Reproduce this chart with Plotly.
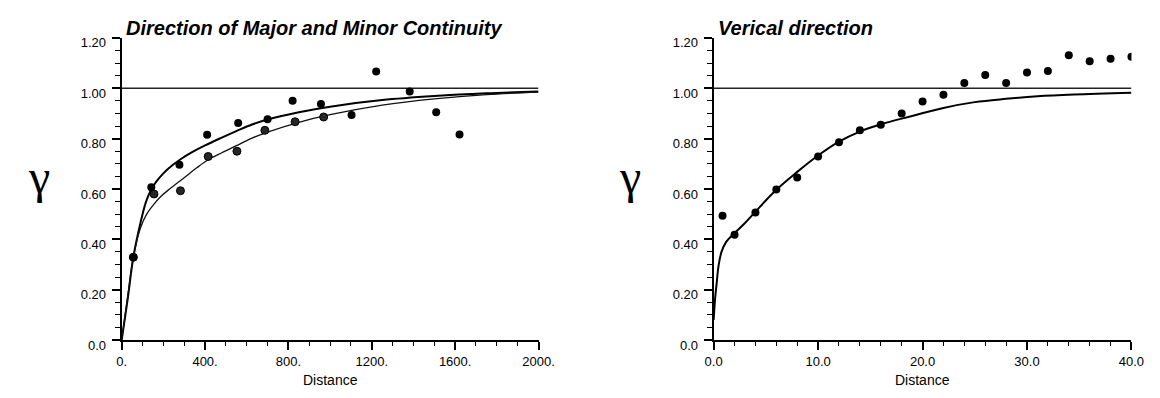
import plotly.graph_objects as go

# ---------------- data ----------------
# Left panel: experimental variogram points (major / minor direction)
major_lag = [56, 142, 277, 410, 559, 700, 820, 956, 1103, 1221, 1382, 1509, 1621]
major_gam = [0.329, 0.607, 0.696, 0.815, 0.862, 0.877, 0.950, 0.938, 0.894, 1.067, 0.987, 0.905, 0.816]
minor_lag = [56, 155, 282, 415, 553, 687, 832, 969]
minor_gam = [0.329, 0.580, 0.593, 0.729, 0.750, 0.833, 0.867, 0.886]

# Left panel: fitted model curves
major_fit_x = [0, 30, 56, 90, 115, 140, 165, 200, 240, 288, 340, 400, 480, 550, 625, 700, 850,
               1000, 1250, 1500, 1750, 2000]
major_fit_y = [0.0, 0.17, 0.33, 0.465, 0.545, 0.595, 0.628, 0.662, 0.692, 0.721, 0.747, 0.773,
               0.804, 0.83, 0.856, 0.876, 0.905, 0.927, 0.953, 0.969, 0.980, 0.987]
minor_fit_x = [0, 30, 56, 90, 120, 155, 190, 230, 300, 360, 415, 480, 550, 620, 700, 850, 1000,
               1250, 1500, 1750, 2000]
minor_fit_y = [0.0, 0.18, 0.33, 0.445, 0.50, 0.54, 0.572, 0.60, 0.645, 0.684, 0.716, 0.744, 0.772,
               0.80, 0.826, 0.865, 0.895, 0.933, 0.958, 0.975, 0.985]

# Right panel: vertical direction
vert_lag = [0.85, 2, 4, 6, 8, 10, 12, 14, 16, 18, 20, 22, 24, 26, 28, 30, 32, 34, 36, 38, 40]
vert_gam = [0.494, 0.418, 0.507, 0.598, 0.646, 0.729, 0.786, 0.833, 0.855, 0.900, 0.947, 0.974,
            1.021, 1.053, 1.021, 1.063, 1.069, 1.131, 1.107, 1.117, 1.125]
vert_fit_x = [0, 0.15, 0.3, 0.45, 0.75, 1.2, 2, 3, 4, 6, 8, 10, 12, 14, 16, 19, 22, 25, 28, 31, 34.5, 40]
vert_fit_y = [0.08, 0.17, 0.23, 0.29, 0.35, 0.39, 0.425, 0.465, 0.51, 0.597, 0.668, 0.733, 0.788,
              0.828, 0.857, 0.89, 0.922, 0.945, 0.958, 0.968, 0.975, 0.982]

sill = 1.0
left_range = [0, 2000]
right_range = [0, 40]

y_ticks = [0, 0.2, 0.4, 0.6, 0.8, 1.0, 1.2]
y_text = ["0.0", "0.20", "0.40", "0.60", "0.80", "1.00", "1.20"]
lx_ticks = [0, 400, 800, 1200, 1600, 2000]
lx_text = ["0.", "400.", "800.", "1200.", "1600.", "2000."]
rx_ticks = [0, 10, 20, 30, 40]
rx_text = ["0.0", "10.0", "20.0", "30.0", "40.0"]

titles = ["Direction of Major and Minor Continuity", "Verical direction"]

# ---------------- figure ----------------
fig = go.Figure()

# sill lines
fig.add_trace(go.Scatter(x=left_range, y=[sill, sill], mode="lines",
                         line=dict(color="#222", width=1.5), xaxis="x", yaxis="y", hoverinfo="skip"))
fig.add_trace(go.Scatter(x=right_range, y=[sill, sill], mode="lines",
                         line=dict(color="#222", width=1.5), xaxis="x2", yaxis="y2", hoverinfo="skip"))

# model curves
fig.add_trace(go.Scatter(x=major_fit_x, y=major_fit_y, mode="lines", line_shape="spline",
                         line=dict(color="black", width=2), xaxis="x", yaxis="y"))
fig.add_trace(go.Scatter(x=minor_fit_x, y=minor_fit_y, mode="lines", line_shape="spline",
                         line=dict(color="#111", width=1.3), xaxis="x", yaxis="y"))
fig.add_trace(go.Scatter(x=vert_fit_x, y=vert_fit_y, mode="lines", line_shape="spline",
                         line=dict(color="black", width=2), xaxis="x2", yaxis="y2"))

# points
fig.add_trace(go.Scatter(x=minor_lag, y=minor_gam, mode="markers",
                         marker=dict(color="#262626", size=8, line=dict(color="#000", width=1)),
                         xaxis="x", yaxis="y"))
fig.add_trace(go.Scatter(x=major_lag, y=major_gam, mode="markers",
                         marker=dict(color="black", size=8), xaxis="x", yaxis="y"))
fig.add_trace(go.Scatter(x=vert_lag, y=vert_gam, mode="markers",
                         marker=dict(color="black", size=8), xaxis="x2", yaxis="y2"))

tickfont = dict(family="Liberation Sans, Arial, sans-serif", size=13, color="black")

def xaxis(domain, rng, tv, tt, minor_dtick, anchor):
    return dict(domain=domain, range=rng, anchor=anchor, showgrid=False, zeroline=False,
                showline=True, linecolor="black", linewidth=2,
                ticks="outside", ticklen=8, tickwidth=1.5, tickcolor="black",
                tickvals=tv, ticktext=tt, tickfont=tickfont,
                minor=dict(dtick=minor_dtick, tick0=0, ticks="outside", ticklen=4,
                           tickwidth=1, tickcolor="black", showgrid=False))

def yaxis(domain, anchor):
    return dict(domain=domain, range=[0, 1.2], anchor=anchor, showgrid=False, zeroline=False,
                showline=True, linecolor="black", linewidth=2,
                ticks="outside", ticklen=8, tickwidth=1.5, tickcolor="black",
                tickvals=y_ticks, ticktext=y_text, tickfont=tickfont, ticklabelshift=5,
                ticklabelstandoff=3,
                minor=dict(dtick=0.05, tick0=0, ticks="outside", ticklen=5,
                           tickwidth=1, tickcolor="black", showgrid=False))

W, H = 1160, 398
ydom = [(H - 343) / H, (H - 29) / H]
ldom = [107 / W, 533 / W]
rdom = [712 / W, 1139 / W]

annotations = []
for dom, t in zip([ldom, rdom], titles):
    annotations.append(dict(text=t, x=dom[0] + 2 / W, y=(H - 19) / H, xref="paper", yref="paper",
                            xanchor="left", yanchor="middle", showarrow=False,
                            font=dict(family="Liberation Sans, Arial, sans-serif", size=20,
                                      color="black", weight="bold", style="italic")))
    annotations.append(dict(text="Distance", x=(dom[0] + dom[1]) / 2, y=(H - 385) / H,
                            xref="paper", yref="paper", xanchor="center", yanchor="middle",
                            showarrow=False,
                            font=dict(family="Liberation Sans, Arial, sans-serif", size=14, color="black")))
for gx in [22, 627]:
    annotations.append(dict(text="γ", x=gx / W, y=(H - 173) / H, xref="paper", yref="paper",
                            xanchor="center", yanchor="middle", showarrow=False,
                            font=dict(family="Liberation Serif, Times New Roman, serif", size=48,
                                      color="black")))

fig.update_layout(
    width=W, height=H, showlegend=False,
    paper_bgcolor="white", plot_bgcolor="white",
    margin=dict(l=0, r=0, t=0, b=0),
    xaxis=xaxis(ldom, left_range, lx_ticks, lx_text, 100, "y"),
    yaxis=yaxis(ydom, "x"),
    xaxis2=xaxis(rdom, right_range, rx_ticks, rx_text, 2, "y2"),
    yaxis2=yaxis(ydom, "x2"),
    annotations=annotations,
)

fig.write_html("out.html")
